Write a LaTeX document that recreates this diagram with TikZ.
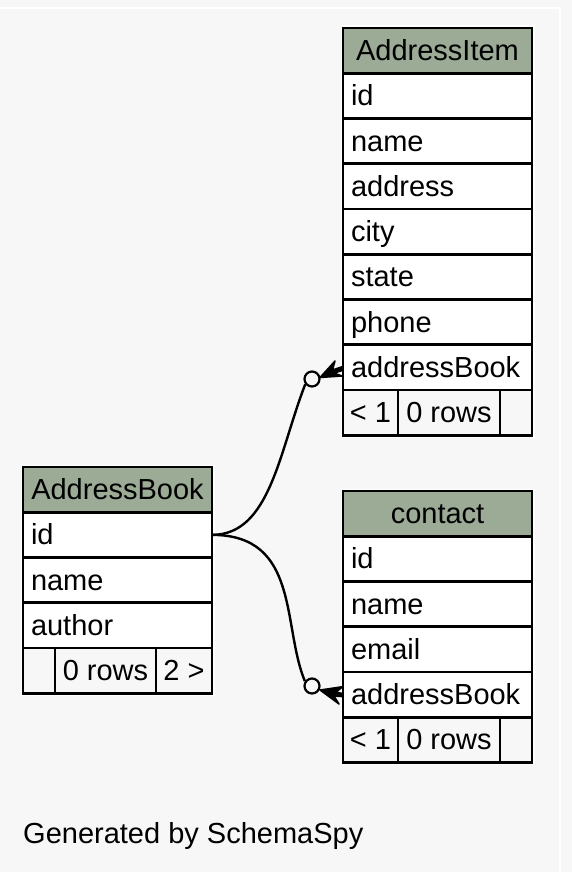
\documentclass[tikz,border=0pt]{standalone}
\usepackage{fontspec}
\setmainfont{Liberation Sans}
\definecolor{bgc}{HTML}{F7F7F7}
\definecolor{hdr}{HTML}{9BAB96}
\definecolor{ftr}{HTML}{F7F7F7}
\tikzset{
  tcell/.style={draw=black, line width=2.8pt, inner ysep=0pt, inner xsep=8pt,
     minimum height=45.25pt, text height=24pt, text depth=4pt, outer sep=0pt,
     font=\fontsize{29}{34}\selectfont},
  field/.style={tcell, fill=white, text width=173pt, align=left},
  head/.style={tcell, fill=hdr, text width=173pt, align=center},
  foot/.style={tcell, fill=ftr, inner xsep=0pt, align=center},
  halo/.style={fill=white},
  edge/.style={draw=black, line width=2.4pt},
  odot/.style={circle, draw=black, fill=bgc, line width=2.2pt, minimum size=15pt, inner sep=0pt},
  crow/.style={fill=black, draw=black, line width=1.5pt, line join=round},
}
\begin{document}
\begin{tikzpicture}[x=1pt,y=-1pt]
\useasboundingbox (0,0) rectangle (572,872);
\fill[bgc] (0,0) rectangle (572,872);
\draw[white, line width=1.5pt] (0,8) -- (560,8) -- (560,872);

% halos
\fill[halo] (340.5,25.5) rectangle (534.5,437.75);
\fill[halo] (20.5,464.5) rectangle (214.5,695.75);
\fill[halo] (340.5,488.5) rectangle (534.5,765);

% AddressItem
\node[head]  (ai-h)    at (437.5, 50.625) {AddressItem};
\node[field] (ai-id)   at (437.5, 95.875) {id};
\node[field] (ai-name) at (437.5,141.125) {name};
\node[field] (ai-addr) at (437.5,186.375) {address};
\node[field] (ai-city) at (437.5,231.625) {city};
\node[field] (ai-st)   at (437.5,276.875) {state};
\node[field] (ai-ph)   at (437.5,322.125) {phone};
\node[field] (ai-ab)   at (437.5,367.375) {addressBook};
\node[foot, minimum width=55pt]  (ai-f1) at (370.5,412.625) {< 1};
\node[foot, minimum width=102pt] (ai-f2) at (449,412.625) {0 rows};
\node[foot, minimum width=32pt]  (ai-f3) at (516,412.625) {};

% AddressBook
\node[head]  (ab-h)    at (117.5,489.625) {AddressBook};
\node[field] (ab-id)   at (117.5,534.875) {id};
\node[field] (ab-name) at (117.5,580.125) {name};
\node[field] (ab-au)   at (117.5,625.375) {author};
\node[foot, minimum width=32pt]  (ab-f1) at (39,670.625) {};
\node[foot, minimum width=101pt] (ab-f2) at (105.5,670.625) {0 rows};
\node[foot, minimum width=56pt]  (ab-f3) at (184,670.625) {2 >};

% contact
\node[head]  (c-h)    at (437.5,513.625) {contact};
\node[field] (c-id)   at (437.5,558.875) {id};
\node[field] (c-name) at (437.5,604.125) {name};
\node[field] (c-em)   at (437.5,649.375) {email};
\node[field] (c-ab)   at (437.5,694.625) {addressBook};
\node[foot, minimum width=55pt]  (c-f1) at (370.5,739.875) {< 1};
\node[foot, minimum width=102pt] (c-f2) at (449,739.875) {0 rows};
\node[foot, minimum width=32pt]  (c-f3) at (516,739.875) {};

% connectors
\node[odot] (o1) at (312,379) {};
\node[odot] (o2) at (312,686) {};
\draw[edge] (ab-id.east) .. controls (270,534.875) and (279,452) .. (o1.218);
\draw[edge] (ab-id.east) .. controls (300,534.875) and (282,626) .. (o2.146);

% crow feet
\coordinate (cr1) at (ai-ab.west);
\coordinate (cr2) at (c-ab.west);
\fill[crow] (320,377.5) -- (335,361) -- (332.5,370) -- ([yshift=1pt]cr1) -- ([yshift=-3pt]cr1) -- (334,373) -- (342,376) -- cycle;
\fill[crow] (320,690) -- ([yshift=8pt]cr2) -- (336,692) -- ([yshift=1pt]cr2) -- ([yshift=-2pt]cr2) -- (334,696) -- (339,704) -- cycle;

\node[anchor=base west, inner sep=0pt, font=\fontsize{29}{34}\selectfont] (gen) at (23,843) {Generated by SchemaSpy};
\end{tikzpicture}
\end{document}
